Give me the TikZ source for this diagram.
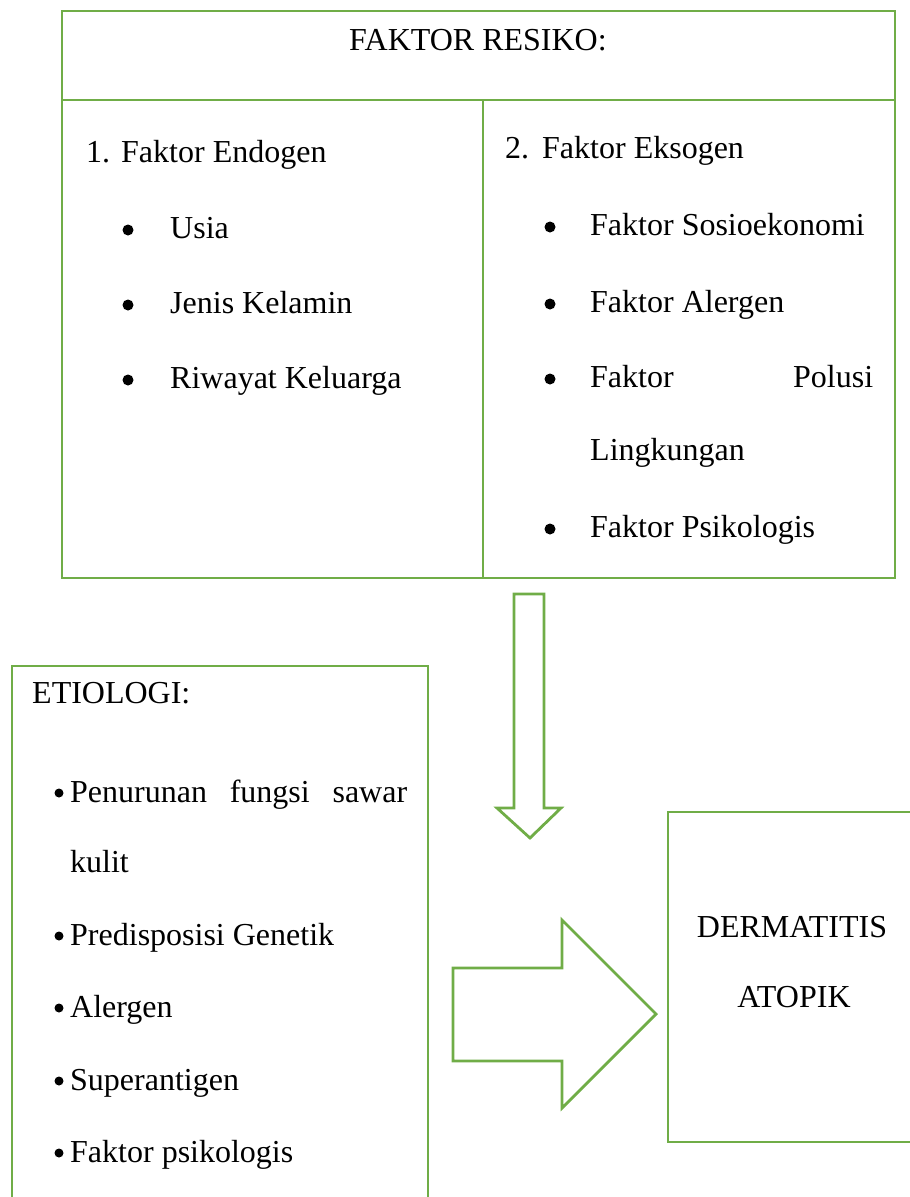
\documentclass[tikz,border=0pt]{standalone}
\usepackage{fontspec}
\setmainfont{Liberation Serif}
\definecolor{grn}{HTML}{70AD47}
\begin{document}
\begin{tikzpicture}[x=1pt,y=-1pt,
  box/.style={draw=grn,line width=2.8pt},
  arr/.style={draw=grn,line width=2.8pt,line join=miter,fill=white},
  txt/.style={anchor=base west,inner sep=0pt,font=\fontsize{32}{38}\selectfont},
  ctr/.style={anchor=base,inner sep=0pt,font=\fontsize{32}{38}\selectfont},
  bul/.style={circle,fill=black,inner sep=0pt,minimum size=11pt},
  sbul/.style={circle,fill=black,inner sep=0pt,minimum size=9pt}]
\useasboundingbox (0,0) rectangle (910,1197);
\clip (0,0) rectangle (910,1197);
% top box
\draw[box] (62,11) rectangle (895,578);
\draw[box] (62,100) -- (895,100);
\draw[box] (483,100) -- (483,578);
\node[ctr] (title) at (478,50) {FAKTOR RESIKO:};
% left column
\node[txt] (n1) at (86,162) {1.};
\node[txt] (endo) at (121,162) {Faktor Endogen};
\node[bul] (b1) at (128,230) {};
\node[txt] (usia) at (170,238) {Usia};
\node[bul] (b2) at (128,305) {};
\node[txt] (jenis) at (170,313) {Jenis Kelamin};
\node[bul] (b3) at (128,380) {};
\node[txt] (riw) at (170,388) {Riwayat Keluarga};
% right column
\node[txt] (n2) at (505,158) {2.};
\node[txt] (ekso) at (542,158) {Faktor Eksogen};
\node[bul] (c1) at (550,227) {};
\node[txt] (sos) at (590,235) {Faktor Sosioekonomi};
\node[bul] (c2) at (550,304) {};
\node[txt] (alg) at (590,312) {Faktor Alergen};
\node[bul] (c3) at (550,379) {};
\node[txt] (pol) at (590,387) {\makebox[283pt][s]{Faktor\hfill Polusi}};
\node[txt] (ling) at (590,460) {Lingkungan};
\node[bul] (c4) at (550,529) {};
\node[txt] (psi) at (590,537) {Faktor Psikologis};
% down arrow
\draw[arr] (514,594) -- (544,594) -- (544,808) -- (561,808) -- (530,838) -- (497,808) -- (514,808) -- cycle;
% etiology box
\draw[box] (12,1220) -- (12,666) -- (428,666) -- (428,1220);
\node[txt] (eti) at (32,703) {ETIOLOGI:};
\node[sbul] (e1) at (59,793) {};
\node[txt] (pen) at (70,802) {\makebox[337pt][s]{Penurunan\hfill fungsi\hfill sawar}};
\node[txt] (kul) at (70,872) {kulit};
\node[sbul] (e2) at (59,936) {};
\node[txt] (pre) at (70,945) {Predisposisi Genetik};
\node[sbul] (e3) at (59,1008) {};
\node[txt] (ale) at (70,1017) {Alergen};
\node[sbul] (e4) at (59,1081) {};
\node[txt] (sup) at (70,1090) {Superantigen};
\node[sbul] (e5) at (59,1153) {};
\node[txt] (fps) at (70,1162) {Faktor psikologis};
% right arrow
\draw[arr] (453,968) -- (562,968) -- (562,920) -- (656,1014) -- (562,1108) -- (562,1061) -- (453,1061) -- cycle;
% dermatitis box
\draw[box] (920,812) -- (668,812) -- (668,1142) -- (920,1142);
\node[ctr] (derm) at (792,937) {DERMATITIS};
\node[ctr] (atop) at (794,1007) {ATOPIK};
\end{tikzpicture}
\end{document}
